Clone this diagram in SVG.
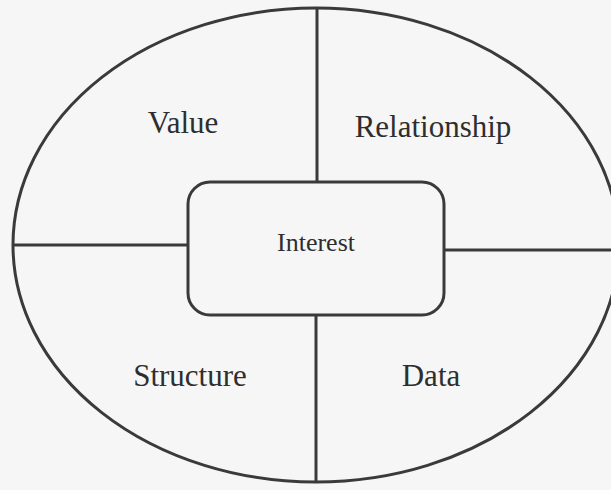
<svg xmlns="http://www.w3.org/2000/svg" width="611" height="490" viewBox="0 0 611 490">
  <style>
    .ink { fill: none; stroke: #3a3a3a; stroke-width: 3; }
    .label { fill: #2e2e2e; text-anchor: middle; }
  </style>
  <rect width="611" height="490" fill="#f6f6f6"/>

  <!-- outer boundary -->
  <g id="boundary">
    <ellipse class="ink" cx="316" cy="245" rx="303" ry="237"/>
  </g>

  <!-- dividing lines between the quadrants and the central box -->
  <g id="connectors">
    <line class="ink" x1="317" y1="8" x2="317" y2="182"/>
    <line class="ink" x1="316" y1="315" x2="316" y2="482"/>
    <line class="ink" x1="13" y1="245" x2="188" y2="245"/>
    <line class="ink" x1="444" y1="250" x2="611" y2="250"/>
  </g>

  <g id="interest">
    <rect class="ink" x="188" y="182" width="256" height="133" rx="22" ry="22"/>
    <text class="label" x="316" y="251" font-family="Liberation Serif, Times New Roman, serif" font-size="26">Interest</text>
  </g>

  <g id="value">
    <text class="label" x="183" y="133" font-family="Liberation Serif, Times New Roman, serif" font-size="31">Value</text>
  </g>

  <g id="relationship">
    <text class="label" x="433" y="137" font-family="Liberation Serif, Times New Roman, serif" font-size="31">Relationship</text>
  </g>

  <g id="structure">
    <text class="label" x="190" y="386" font-family="Liberation Serif, Times New Roman, serif" font-size="31">Structure</text>
  </g>

  <g id="data">
    <text class="label" x="431" y="386" font-family="Liberation Serif, Times New Roman, serif" font-size="31">Data</text>
  </g>
</svg>
